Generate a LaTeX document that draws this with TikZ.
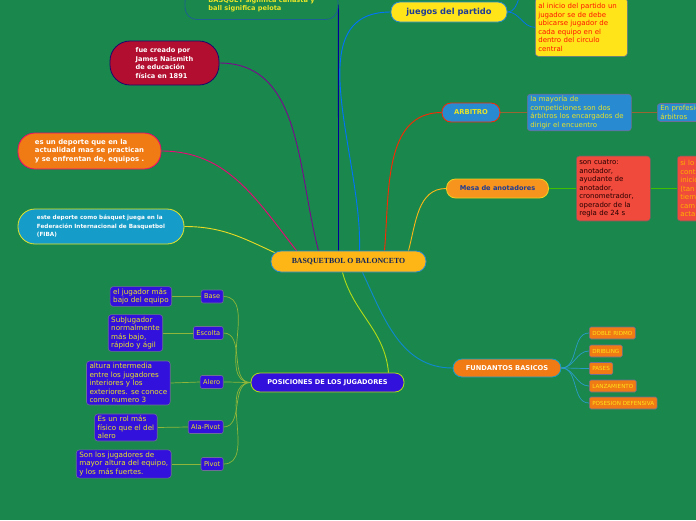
\documentclass[tikz,border=0pt]{standalone}
\usepackage{fontspec}
\setmainfont{DejaVu Sans}
\newfontfamily\rootfont{Liberation Serif}
\usetikzlibrary{calc,positioning,backgrounds}
\definecolor{mapgreen}{RGB}{26,136,76}
\definecolor{crimson}{RGB}{178,14,48}
\definecolor{pumpkin}{RGB}{240,122,20}
\definecolor{fibablue}{RGB}{22,156,200}
\definecolor{lemon}{RGB}{255,228,26}
\definecolor{skyblue}{RGB}{40,138,208}
\definecolor{amber}{RGB}{253,182,22}
\definecolor{tomato}{RGB}{240,74,60}
\definecolor{violet}{RGB}{51,17,221}
\definecolor{txtyellow}{RGB}{232,228,40}
\definecolor{navytxt}{RGB}{30,60,150}
\definecolor{mesaorange}{RGB}{247,148,30}
\definecolor{greyedge}{RGB}{110,110,150}
\tikzset{
  pill/.style={draw, line width=0.8pt, rounded corners=9pt, align=left, inner sep=0pt,
    font=\bfseries\fontsize{6.6}{8.5}\selectfont},
  note/.style={draw=greyedge, line width=0.6pt, rounded corners=3pt, align=left,
    inner xsep=3pt, inner ysep=2pt, font=\fontsize{7}{8.5}\selectfont},
  tag/.style={draw=greyedge, line width=0.6pt, rounded corners=2pt, fill=violet, text=txtyellow,
    minimum height=13pt, inner xsep=3pt, inner ysep=0pt, font=\fontsize{6.6}{7}\selectfont},
  chipf/.style={draw=greyedge, line width=0.6pt, rounded corners=1.5pt, fill=pumpkin, text=lemon,
    minimum height=12pt, inner xsep=3pt, inner ysep=0pt, font=\fontsize{5.6}{6}\selectfont},
  link/.style={line width=0.9pt},
  twig/.style={line width=0.7pt}
}

\begin{document}
\begin{tikzpicture}[x=1pt,y=-1pt]
  \useasboundingbox (0,0) rectangle (696,520);

  % central topic
  \node[pill, fill=amber, draw=skyblue, text=navytxt!60!black, minimum width=155pt, minimum height=21pt,
    rounded corners=10pt, font=\rootfont\bfseries\fontsize{7.8}{9}\selectfont] (root) at (348.5,261.5) {BASQUETBOL O BALONCETO};

  % left side
  \node[pill, fill=mapgreen, draw=skyblue!70!black, text=txtyellow, minimum width=153pt, minimum height=30pt,
    rounded corners=12pt] (origen) at (261.5,4.5) {BASQUET significa canasta y\\ball significa pelota};
  \node[pill, fill=crimson, draw=violet!50!black, text=white, minimum width=109pt, minimum height=44pt,
    rounded corners=20pt] (creado) at (164.5,63) {fue creado por\\James Naismith\\de educación\\física en 1891};
  \node[pill, fill=pumpkin, draw=magenta!70!red, text=white, minimum width=143pt, minimum height=36pt,
    rounded corners=17pt, font=\bfseries\fontsize{6.9}{8.8}\selectfont] (deporte) at (89.5,151)
    {es un deporte que en la\\actualidad mas se practican\\y se enfrentan de, equipos .};
  \node[pill, fill=fibablue, draw=txtyellow, text=white, minimum width=166pt, minimum height=35pt,
    rounded corners=17pt, font=\bfseries\fontsize{5.7}{8.5}\selectfont] (fiba) at (101,226.5)
    {este deporte como básquet juega en la\\Federación Internacional de Basquetbol\\(FIBA)};

  % right side, top
  \node[pill, fill=lemon, draw=skyblue, text=navytxt, minimum width=116pt, minimum height=20pt,
    font=\bfseries\fontsize{8.3}{10}\selectfont] (juegos) at (449,12) {juegos del partido};
  \node[note, fill=lemon, text=red!85!orange, text width=86pt, minimum height=58pt, anchor=north west]
    (inicio) at (535,-2) {al inicio del partido un\\jugador se de debe\\ubicarse jugador de\\cada equipo en el\\dentro del circulo\\central};
  \coordinate (arriba) at (530,-14);

  \node[pill, fill=skyblue, draw=red!70!orange, text=txtyellow, minimum width=58pt, minimum height=19pt,
    font=\bfseries\fontsize{6.8}{8}\selectfont] (arbitro) at (471,112.5) {ARBITRO};
  \node[note, fill=skyblue, text=txtyellow, text width=98pt, anchor=west] (arbnota) at (527,112.5)
    {la mayoría de\\competiciones son dos\\árbitros los encargados de\\dirigir el encuentro};
  \node[note, fill=skyblue, text=txtyellow, text width=90pt, anchor=west] (profes) at (657,112.5)
    {En profesionales\\árbitros};

  \node[pill, fill=mesaorange, draw=txtyellow!80!orange, text=navytxt, minimum width=102pt, minimum height=19pt]
    (mesa) at (497.5,188.5) {Mesa de anotadores};
  \node[note, fill=tomato, draw=black!60, text=black!85!red, text width=68pt, minimum height=65pt, anchor=west]
    (anota) at (576,188.5) {son cuatro:\\anotador,\\ayudante de\\anotador,\\cronometrador,\\operador de la\\regla de 24 s};
  \node[note, fill=tomato, draw=black!60, text=orange!60!yellow, text width=60pt, minimum height=65pt, anchor=west]
    (anota2) at (677,188.5) {si lo\\cont\\inicio\\(tan\\tiem\\cam\\acta};

  % bottom branches
  \node[pill, fill=violet, draw=yellow!70!green, text=white, minimum width=153pt, minimum height=19pt]
    (posic) at (327.5,382.5) {POSICIONES DE LOS JUGADORES};
  \foreach \nm/\txt/\y in {base/Base/296.5, escolta/Escolta/333, alero/Alero/382, alapivot/Ala-Pivot/427, pivot/Pivot/464}
    \node[tag, anchor=east] (\nm) at (223.5,\y) {\txt};
  \foreach \nm/\x/\y/\txt in {base/172/296.5/{el jugador más\\bajo del equipo},
      escolta/163/333/{SubJugador\\normalmente\\más bajo,\\rápido y ágil},
      alero/170.5/383/{altura intermedia\\entre los jugadores\\interiores y los\\exteriores. se conoce\\como numero 3},
      alapivot/157.5/427.5/{Es un rol más\\físico que el del\\alero},
      pivot/171.5/464/{Son los jugadores de\\mayor altura del equipo,\\y los más fuertes.}}
    \node[note, fill=violet, text=txtyellow, anchor=east, font=\fontsize{7.2}{8.6}\selectfont] (d\nm) at (\x,\y) {\txt};

  \node[pill, fill=pumpkin, draw=fibablue, text=white, minimum width=108pt, minimum height=18pt,
    font=\bfseries\fontsize{6.7}{8}\selectfont] (fund) at (507,368) {FUNDANTOS BASICOS};
  \foreach \nm/\txt/\y in {doble/DOBLE RIDMO/333, dribling/DRIBLING/351, pases/PASES/368.5,
      lanz/LANZAMIENTO/386, posesion/POSESION DEFENSIVA/403}
    \node[chipf, anchor=west] (\nm) at (589,\y) {\txt};

  % connectors behind the nodes
  \begin{scope}[on background layer]
    \fill[mapgreen] (0,0) rectangle (696,520);
    \draw[link, blue!60!black] ($(root.north)+(-10,0)$) -- (origen.east);
    \draw[link, violet!50!purple] ($(root.north)+(-30,0)$) to[out=105,in=0] (creado.east);
    \draw[link, magenta!80!red] ($(root.north)+(-52,0)$) to[out=128,in=0] (deporte.east);
    \draw[link, txtyellow!90!orange] ($(root.north west)+(4,2)$) to[out=155,in=0] (fiba.east);
    \draw[link, blue!55!cyan] ($(root.north)+(11,0)$) to[out=88,in=180] (juegos.west);
    \draw[link, red!70!orange] ($(root.north)+(36,0)$) to[out=85,in=180] (arbitro.west);
    \draw[link, amber] ($(root.north)+(60,0)$) to[out=75,in=180] (mesa.west);
    \draw[link, cyan!70!blue] ($(root.south)+(14,0)$) to[out=-65,in=180] (fund.west);
    \draw[link, yellow!70!green] ($(root.south)+(-6,0)$) to[out=-75,in=95] ($(posic.north)+(61,0)$);

    \draw[twig, blue!55!cyan] (juegos.east) to[out=0,in=180] (inicio.west);
    \draw[twig, blue!55!cyan] (juegos.east) to[out=0,in=180] (arriba);
    \draw[twig, brown!80!black] (arbitro.east) -- (arbnota.west);
    \draw[twig, brown!80!black] (arbnota.east) -- (profes.west);
    \draw[twig, green!50!olive] (mesa.east) -- (anota.west);
    \draw[twig, green!50!olive] (anota.east) -- (anota2.west);
    \foreach \nm in {base,escolta,alero,alapivot,pivot} {
      \draw[twig, yellow!60!green!80!black] (posic.west) to[out=180,in=0] (\nm.east);
      \draw[twig, yellow!60!green!80!black] (\nm.west) -- (d\nm.east);
    }
    \foreach \nm in {doble,dribling,pases,lanz,posesion}
      \draw[twig, cyan!60!teal] (fund.east) to[out=0,in=180] (\nm.west);
  \end{scope}
\end{tikzpicture}
\end{document}
